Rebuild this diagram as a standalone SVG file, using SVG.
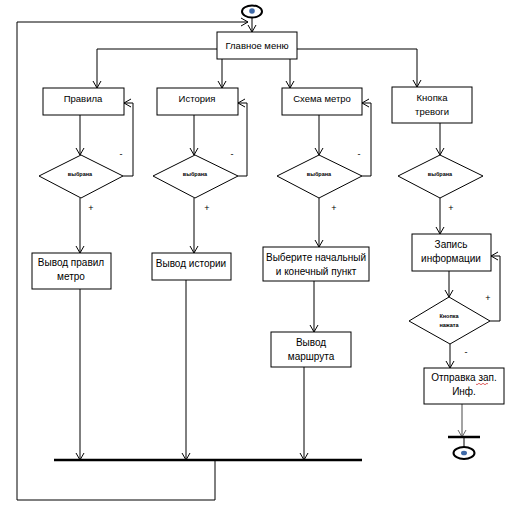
<svg xmlns="http://www.w3.org/2000/svg" width="522" height="521" viewBox="0 0 522 521">
<defs>
<marker id="arr" markerWidth="10" markerHeight="10" refX="8" refY="5" orient="auto" markerUnits="userSpaceOnUse">
<polyline points="1,1 8,5 1,9" fill="none" stroke="#000" stroke-width="1"/>
</marker>
<marker id="arrg" markerWidth="10" markerHeight="10" refX="8" refY="5" orient="auto" markerUnits="userSpaceOnUse">
<polyline points="1,1 8,5 1,9" fill="none" stroke="#666" stroke-width="1"/>
</marker>
</defs>
<style>
.box{fill:#fff;stroke:#000;stroke-width:1}
.dia{fill:#fff;stroke:#000;stroke-width:1}
.ln{fill:none;stroke:#000;stroke-width:1}
.la{fill:none;stroke:#000;stroke-width:1;marker-end:url(#arr)}
.t{font-family:"Liberation Sans",Arial,sans-serif;font-size:9.5px;fill:#000;text-anchor:middle}
.t2{font-family:"Liberation Sans",Arial,sans-serif;font-size:10px;fill:#000;text-anchor:middle}
.ts{font-family:"Liberation Sans",Arial,sans-serif;font-size:5.5px;font-weight:bold;fill:#000;text-anchor:middle}
.sg{font-family:"Liberation Sans",Arial,sans-serif;font-size:9px;fill:#000;text-anchor:middle}
.bar{stroke:#000;stroke-width:2.5}
</style>
<rect width="522" height="521" fill="#fff"/>
<g id="connectors">
<path class="la" d="M252,17 V32"/>
<path class="la" d="M217,49 H97 V88"/>
<path class="la" d="M222,59 V88"/>
<path class="la" d="M290,59 V88"/>
<path class="la" d="M297,49 H417 V87"/>
<path class="la" d="M80,115 V155"/>
<path class="la" d="M194,115 V155"/>
<path class="la" d="M319,115 V155"/>
<path class="la" d="M440,123 V155"/>
<path class="la" d="M123,176 H133 V103 H124"/>
<path class="la" d="M238,176 H247 V103 H238"/>
<path class="la" d="M362,176 H371 V103 H362"/>
<path class="la" d="M80,198 V253"/>
<path class="la" d="M194,198 V253"/>
<path class="la" d="M319,198 V247"/>
<path class="la" d="M440,198 V234"/>
<path class="la" d="M314,281 V332"/>
<path class="la" d="M449,271 V297"/>
<path class="la" d="M490,321 H500 V256 H491"/>
<path class="la" d="M450,344 V368"/>
<path fill="none" stroke="#666" stroke-width="1.2" marker-end="url(#arrg)" d="M462,404 V437"/>
<path class="la" d="M80,289 V460"/>
<path class="la" d="M186,280 V460"/>
<path class="la" d="M304,367 V460"/>
<path class="ln" d="M464,437 V447"/>
<path class="la" d="M215,460 V500 H17 V22 H248"/>
<line class="bar" x1="54" y1="460" x2="362" y2="460"/>
<line class="bar" x1="448" y1="437" x2="480" y2="437" stroke-width="2"/>
<text class="sg" x="121" y="157">-</text>
<text class="sg" x="232" y="157">-</text>
<text class="sg" x="359" y="157">-</text>
<text class="sg" x="91" y="211">+</text>
<text class="sg" x="207" y="211">+</text>
<text class="sg" x="334" y="211">+</text>
<text class="sg" x="451" y="211">+</text>
<text class="sg" x="488" y="301">+</text>
<text class="sg" x="466" y="355">-</text>
</g>
<g id="start">
<ellipse cx="252" cy="11.5" rx="10" ry="6" fill="#fff" stroke="#000" stroke-width="2"/>
<circle cx="252" cy="11" r="2.8" fill="#3f6aa8"/>
</g>
<g id="main-menu">
<rect class="box" x="217" y="32" width="80" height="27"/>
<text class="t" x="257" y="49">Главное  меню</text>
</g>
<g id="rules">
<rect class="box" x="43" y="88" width="81" height="27"/>
<text class="t" x="83" y="102">Правила</text>
</g>
<g id="history">
<rect class="box" x="157" y="88" width="81" height="27"/>
<text class="t" x="197" y="102">История</text>
</g>
<g id="metro-map">
<rect class="box" x="282" y="88" width="80" height="27"/>
<text class="t" x="322" y="102">Схема  метро</text>
</g>
<g id="alarm-button">
<rect class="box" x="392" y="87" width="80" height="36"/>
<text class="t" x="432" y="101">Кнопка</text>
<text class="t" x="432" y="115">тревоги</text>
</g>
<g id="dec-rules">
<polygon class="dia" points="39,176 81,155 123,176 81,198"/>
<text class="ts" x="80" y="176">выбрана</text>
</g>
<g id="dec-history">
<polygon class="dia" points="153,176 195,155 238,176 195,198"/>
<text class="ts" x="195" y="176">выбрана</text>
</g>
<g id="dec-map">
<polygon class="dia" points="277,176 319,155 362,176 319,198"/>
<text class="ts" x="319" y="176">выбрана</text>
</g>
<g id="dec-alarm">
<polygon class="dia" points="398,176 440,155 483,176 440,198"/>
<text class="ts" x="440" y="176">выбрана</text>
</g>
<g id="rules-out">
<rect class="box" x="32" y="253" width="79" height="36"/>
<text class="t2" x="71" y="266">Вывод правил</text>
<text class="t2" x="71" y="280">метро</text>
</g>
<g id="history-out">
<rect class="box" x="152" y="253" width="79" height="27"/>
<text class="t2" x="191" y="267">Вывод истории</text>
</g>
<g id="choose-points">
<rect class="box" x="263" y="247" width="106" height="34"/>
<text class="t2" x="316" y="261">Выберите  начальный</text>
<text class="t2" x="316" y="275">и  конечный пункт</text>
</g>
<g id="route-out">
<rect class="box" x="271" y="332" width="80" height="35"/>
<text class="t2" x="311" y="346">Вывод</text>
<text class="t2" x="311" y="360">маршрута</text>
</g>
<g id="record-info">
<rect class="box" x="412" y="234" width="79" height="37"/>
<text class="t2" x="451" y="248">Запись</text>
<text class="t2" x="451" y="262">информации</text>
</g>
<g id="dec-pressed">
<polygon class="dia" points="409,321 449,297 490,321 450,344"/>
<text class="ts" x="449" y="318" font-weight="normal" font-family="Liberation Serif,serif">Кнопка</text>
<text class="ts" x="449" y="327" font-weight="normal" font-family="Liberation Serif,serif">нажата</text>
</g>
<g id="send-info">
<rect class="box" x="424" y="368" width="80" height="36"/>
<text class="t2" x="464" y="381">Отправка зап.</text>
<text class="t2" x="464" y="395">Инф.</text>
<path d="M476,384 q1,1.5 2,0 t2,0 t2,0 t2,0 t2,0 t2,0" fill="none" stroke="#d02020" stroke-width="0.7"/>
</g>
<g id="end">
<ellipse cx="464" cy="453" rx="10.5" ry="6" fill="#fff" stroke="#000" stroke-width="2"/>
<ellipse cx="464" cy="453" rx="3" ry="2.3" fill="#3f6aa8"/>
</g>
</svg>
